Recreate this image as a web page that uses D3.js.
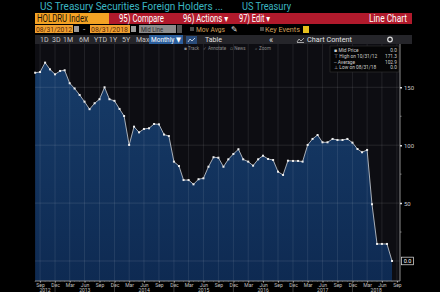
<!DOCTYPE html>
<html>
<head>
<meta charset="utf-8">
<script src="https://cdn.jsdelivr.net/npm/d3@7"></script>
<style>
  body { margin: 0; background: #000; }
  svg { display: block; font-family: Roboto, "DejaVu Sans", sans-serif; }
</style>
</head>
<body>
<div id="chart"></div>
<script>
// month-end readings, Aug 2012 .. Aug 2018
const months = [
    "2012-08", "2012-09", "2012-10", "2012-11", "2012-12",
    "2013-01", "2013-02", "2013-03", "2013-04", "2013-05", "2013-06", "2013-07", "2013-08", "2013-09", "2013-10", "2013-11", "2013-12",
    "2014-01", "2014-02", "2014-03", "2014-04", "2014-05", "2014-06", "2014-07", "2014-08", "2014-09", "2014-10", "2014-11", "2014-12",
    "2015-01", "2015-02", "2015-03", "2015-04", "2015-05", "2015-06", "2015-07", "2015-08", "2015-09", "2015-10", "2015-11", "2015-12",
    "2016-01", "2016-02", "2016-03", "2016-04", "2016-05", "2016-06", "2016-07", "2016-08", "2016-09", "2016-10", "2016-11", "2016-12",
    "2017-01", "2017-02", "2017-03", "2017-04", "2017-05", "2017-06", "2017-07", "2017-08", "2017-09", "2017-10", "2017-11", "2017-12",
    "2018-01", "2018-02", "2018-03", "2018-04", "2018-05", "2018-06", "2018-07", "2018-08"
];
const holdings = [
    162.6, 163.2, 171.3, 165.5, 161.2,
    164.1, 164.7, 153.5, 149.0, 143.4, 137.6, 131.1, 136.2, 139.7, 150.0, 139.7, 138.3,
    131.3, 125.2, 100.2, 116.0, 111.1, 114.0, 114.6, 118.3, 118.0, 109.2, 107.9, 85.8,
    82.0, 69.9, 69.9, 66.2, 70.6, 71.4, 81.4, 89.6, 89.2, 81.4, 87.8, 92.4,
    96.5, 87.8, 85.8, 82.3, 87.8, 90.9, 88.1, 87.2, 77.1, 74.3, 86.6, 86.4,
    86.4, 85.8, 100.2, 105.4, 108.8, 102.5, 102.5, 105.4, 104.5, 104.5, 105.4, 102.2,
    96.7, 93.9, 95.9, 49.0, 14.7, 14.7, 14.7, 0.0
];
const quarterTicks = ["2012-09", "2012-12", "2013-03", "2013-06", "2013-09", "2013-12", "2014-03", "2014-06", "2014-09", "2014-12",
    "2015-03", "2015-06", "2015-09", "2015-12", "2016-03", "2016-06", "2016-09", "2016-12", "2017-03", "2017-06", "2017-09", "2017-12",
    "2018-03", "2018-06", "2018-09"];
const years = [2012, 2013, 2014, 2015, 2016, 2017, 2018];
const yTicks = [50, 100, 150];
const yMinorTicks = [25, 75, 125];
const legendRows = [
    ["\u25AA Mid Price", "0.0"],
    ["\u22A4 High on 10/31/12", "171.3"],
    ["-- Average", "102.9"],
    ["\u22A5 Low on 08/31/18", "0.0"]
];

const W = 440, H = 292;
const plot = { left: 35, right: 400, top: 44, bottom: 281 };

const parseMonth = d3.timeParse("%Y-%m");
const monthEnd = s => d3.timeDay.offset(d3.timeMonth.offset(parseMonth(s), 1), -1);
const data = months.map((m, i) => ({ date: monthEnd(m), value: holdings[i] }));

const svg = d3.select("#chart").append("svg")
    .attr("width", W)
    .attr("height", H);

svg.append("rect").attr("width", W).attr("height", H).attr("fill", "#000");

function label(x, y, text, size, color, len, anchor) {
    const t = svg.append("text")
        .attr("x", x)
        .attr("y", y)
        .attr("fill", color)
        .style("font-size", size + "px")
        .attr("text-anchor", anchor || "start")
        .text(text);
    if (len) t.attr("textLength", len).attr("lengthAdjust", "spacingAndGlyphs");
    return t;
}

// ---- header rows
label(40, 10, "US Treasury Securities Foreign Holders ...", 10.5, "#3bb6c2", 183);
label(242, 10, "US Treasury", 10.5, "#3bb6c2", 49);

svg.append("rect").attr("x", 35).attr("y", 13).attr("width", 74).attr("height", 11).attr("fill", "#f4a324");
label(37, 22, "HOLDRU Index", 10, "#1b1208", 51);
svg.append("rect").attr("x", 109).attr("y", 13).attr("width", 303).attr("height", 11).attr("fill", "#b11a2c");
label(119, 22, "95) Compare", 10, "#fff", 45);
label(183, 22, "96) Actions \u25BE", 10, "#fff", 45);
label(239, 22, "97) Edit \u25BE", 10, "#fff", 31);
label(407, 22, "Line Chart", 10, "#fff", 38, "end");

// date / option row
svg.append("rect").attr("x", 35).attr("y", 25).attr("width", 38).attr("height", 8).attr("fill", "#f0a030");
label(36, 32, "08/31/2012", 8, "#5a2a08", 36);
svg.append("rect").attr("x", 74).attr("y", 26).attr("width", 5).attr("height", 6).attr("fill", "#9a9a9a");
label(83, 32, "-", 8, "#ddd");
svg.append("rect").attr("x", 90).attr("y", 25).attr("width", 40).attr("height", 8).attr("fill", "#f0a030");
label(91, 32, "08/31/2018", 8, "#5a2a08", 37);
svg.append("rect").attr("x", 131).attr("y", 26).attr("width", 5).attr("height", 6).attr("fill", "#9a9a9a");
svg.append("rect").attr("x", 139).attr("y", 25).attr("width", 37).attr("height", 8).attr("fill", "#8c8c8c");
label(141, 32, "Mid Line", 8, "#2a2a2a", 22);
svg.append("rect").attr("x", 177).attr("y", 25).attr("width", 5).attr("height", 8).attr("fill", "#555");
svg.append("rect").attr("x", 190).attr("y", 27).attr("width", 4).attr("height", 4).attr("fill", "#4a4a4a");
label(196, 32, "Mov Avgs", 8, "#d6a35c", 29);
label(231, 32, "\u270E", 8, "#ddd");
svg.append("rect").attr("x", 260).attr("y", 27).attr("width", 4).attr("height", 4).attr("fill", "#4a4a4a");
label(265, 32, "Key Events", 8, "#d6a35c", 35);
svg.append("rect").attr("x", 303).attr("y", 26).attr("width", 6).attr("height", 7).attr("fill", "#e6c01c");

// range toolbar
svg.append("rect").attr("x", 35).attr("y", 35).attr("width", 377).attr("height", 9).attr("fill", "#25252a");
[["1D", 40], ["3D", 52], ["1M", 63], ["6M", 79], ["YTD", 94], ["1Y", 109], ["5Y", 122], ["Max", 136]]
    .forEach(([t, x]) => label(x, 42, t, 7, "#c4c4c4"));
svg.append("rect").attr("x", 149).attr("y", 35).attr("width", 34).attr("height", 9).attr("fill", "#2b5e9c");
label(151, 42, "Monthly \u25BC", 7, "#fff", 30);
svg.append("rect").attr("x", 186).attr("y", 36).attr("width", 11).attr("height", 8).attr("fill", "#2a4c7a");
svg.append("path").attr("d", "M188,42 L190,39 L192,41 L195,38").attr("fill", "none").attr("stroke", "#fff").attr("stroke-width", 0.7);
label(205, 42, "Table", 7, "#e0e0e0", 17);
label(269, 43, "\u00AB", 9, "#ddd");
svg.append("path").attr("d", "M297,42 L299,39 L301,41 L304,38 M297,42.5 L304,42.5").attr("fill", "none").attr("stroke", "#ddd").attr("stroke-width", 0.7);
label(307, 42, "Chart Content", 7, "#e0e0e0", 45);
svg.append("circle").attr("cx", 390).attr("cy", 39.5).attr("r", 2.3).attr("fill", "none").attr("stroke", "#ddd").attr("stroke-width", 1.2);

// ---- plot
const x = d3.scaleTime()
    .domain([d3.timeDay.offset(monthEnd("2012-08"), -1), new Date(2018, 9, 19)])
    .range([plot.left, plot.right]);
const y = d3.scaleLinear().domain([-17.3, 187.4]).range([plot.bottom, plot.top]);

svg.append("rect")
    .attr("x", plot.left).attr("y", plot.top)
    .attr("width", plot.right - plot.left).attr("height", plot.bottom - plot.top)
    .attr("fill", "#0d0d12");

const grad = svg.append("defs").append("linearGradient")
    .attr("id", "fillGrad").attr("x1", 0).attr("y1", 0).attr("x2", 0).attr("y2", 1);
grad.append("stop").attr("offset", "0%").attr("stop-color", "#173c69");
grad.append("stop").attr("offset", "100%").attr("stop-color", "#0e2a52");

const area = d3.area()
    .x(d => x(d.date))
    .y0(plot.bottom)
    .y1(d => y(d.value));
svg.append("path").datum(data).attr("d", area).attr("fill", "url(#fillGrad)");

// gridlines over the fill
const quarterDates = quarterTicks.map(monthEnd);
svg.append("g").selectAll("line").data(quarterDates).join("line")
    .attr("x1", d => x(d)).attr("x2", d => x(d))
    .attr("y1", plot.top).attr("y2", plot.bottom)
    .attr("stroke", "#fff").attr("stroke-opacity", 0.11).attr("stroke-width", 0.8);
svg.append("g").selectAll("line").data([0].concat(yTicks)).join("line")
    .attr("x1", plot.left).attr("x2", plot.right)
    .attr("y1", d => y(d)).attr("y2", d => y(d))
    .attr("stroke", "#fff").attr("stroke-opacity", 0.13).attr("stroke-width", 0.8);

const line = d3.line().x(d => x(d.date)).y(d => y(d.value));
svg.append("path").datum(data).attr("d", line)
    .attr("fill", "none").attr("stroke", "#cfd3d8").attr("stroke-width", 0.8);
svg.append("g").selectAll("rect").data(data).join("rect")
    .attr("x", d => x(d.date) - 1).attr("y", d => y(d.value) - 1)
    .attr("width", 2).attr("height", 2).attr("fill", "#eeeeee");

// toolbar inside plot
[["\u25AA Track", 184], ["\u2713 Annotate", 203], ["\u25AB News", 230], ["\u2315 Zoom", 255]]
    .forEach(([t, xx]) => label(xx, 49.5, t, 4.5, "#8a8a8a"));

// legend box
svg.append("rect").attr("x", 330).attr("y", 46).attr("width", 69).attr("height", 26)
    .attr("fill", "#050506").attr("stroke", "#333").attr("stroke-width", 0.6);
legendRows.forEach(([t, v], i) => {
    label(334, 52 + i * 5.8, t, 4.8, "#cfcfcf");
    label(397, 52 + i * 5.8, v, 4.8, "#cfcfcf", null, "end");
});

// right axis
const yAxis = d3.axisRight(y).tickValues(yTicks).tickSize(2).tickPadding(2);
const gy = svg.append("g").attr("transform", `translate(${plot.right},0)`).call(yAxis);
gy.select(".domain").attr("d", `M0,${plot.top}V${plot.bottom}`).attr("stroke", "#8c8c8c");
gy.selectAll(".tick line").attr("stroke", "#ddd").attr("stroke-width", 1.5);
gy.selectAll(".tick text").attr("fill", "#c8c8c8").style("font-size", "6px")
    .style("font-family", "Roboto, sans-serif");
svg.append("g").selectAll("line").data(yMinorTicks).join("line")
    .attr("x1", plot.right).attr("x2", plot.right + 1.5)
    .attr("y1", d => y(d)).attr("y2", d => y(d))
    .attr("stroke", "#999").attr("stroke-width", 0.8);

// last value tag
const last = data[data.length - 1];
svg.append("rect").attr("x", plot.right + 1.5).attr("y", y(last.value) - 3.8)
    .attr("width", 12).attr("height", 7.6).attr("fill", "#000")
    .attr("stroke", "#e8e8e8").attr("stroke-width", 0.7);
label(plot.right + 7.5, y(last.value) + 2, last.value.toFixed(1), 5.5, "#fff", null, "middle");

// bottom axis
const xAxis = d3.axisBottom(x).tickValues(quarterDates).tickFormat(d3.timeFormat("%b"))
    .tickSize(1.5).tickPadding(1);
const gx = svg.append("g").attr("transform", `translate(0,${plot.bottom})`).call(xAxis);
gx.select(".domain").attr("d", `M${plot.left},0H${plot.right}`).attr("stroke", "#8c8c8c");
gx.selectAll(".tick line").attr("stroke", "#bbb");
gx.selectAll(".tick text").attr("fill", "#c0c0c0").style("font-size", "5px")
    .style("font-family", "Roboto, sans-serif");
svg.append("g").selectAll("line").data(data).join("line")
    .attr("x1", d => x(d.date)).attr("x2", d => x(d.date))
    .attr("y1", plot.bottom).attr("y2", plot.bottom + 1)
    .attr("stroke", "#777").attr("stroke-width", 0.6);

// year labels centred in each year's span, with separators
const yearSpans = years.map(yr => {
    const a = Math.max(x(monthEnd((yr - 1) + "-12")), plot.left);
    const b = Math.min(x(monthEnd(yr + "-12")), plot.right);
    return { yr, a, b };
});
svg.append("g").selectAll("line").data(yearSpans.slice(0, -1)).join("line")
    .attr("x1", d => d.b).attr("x2", d => d.b)
    .attr("y1", plot.bottom).attr("y2", H)
    .attr("stroke", "#666").attr("stroke-width", 0.6);
svg.append("g").selectAll("text").data(yearSpans).join("text")
    .attr("x", d => (d.a + d.b) / 2).attr("y", 291.5)
    .attr("text-anchor", "middle").attr("fill", "#c0c0c0")
    .style("font-size", "5px")
    .text(d => d.yr);
</script>
</body>
</html>
